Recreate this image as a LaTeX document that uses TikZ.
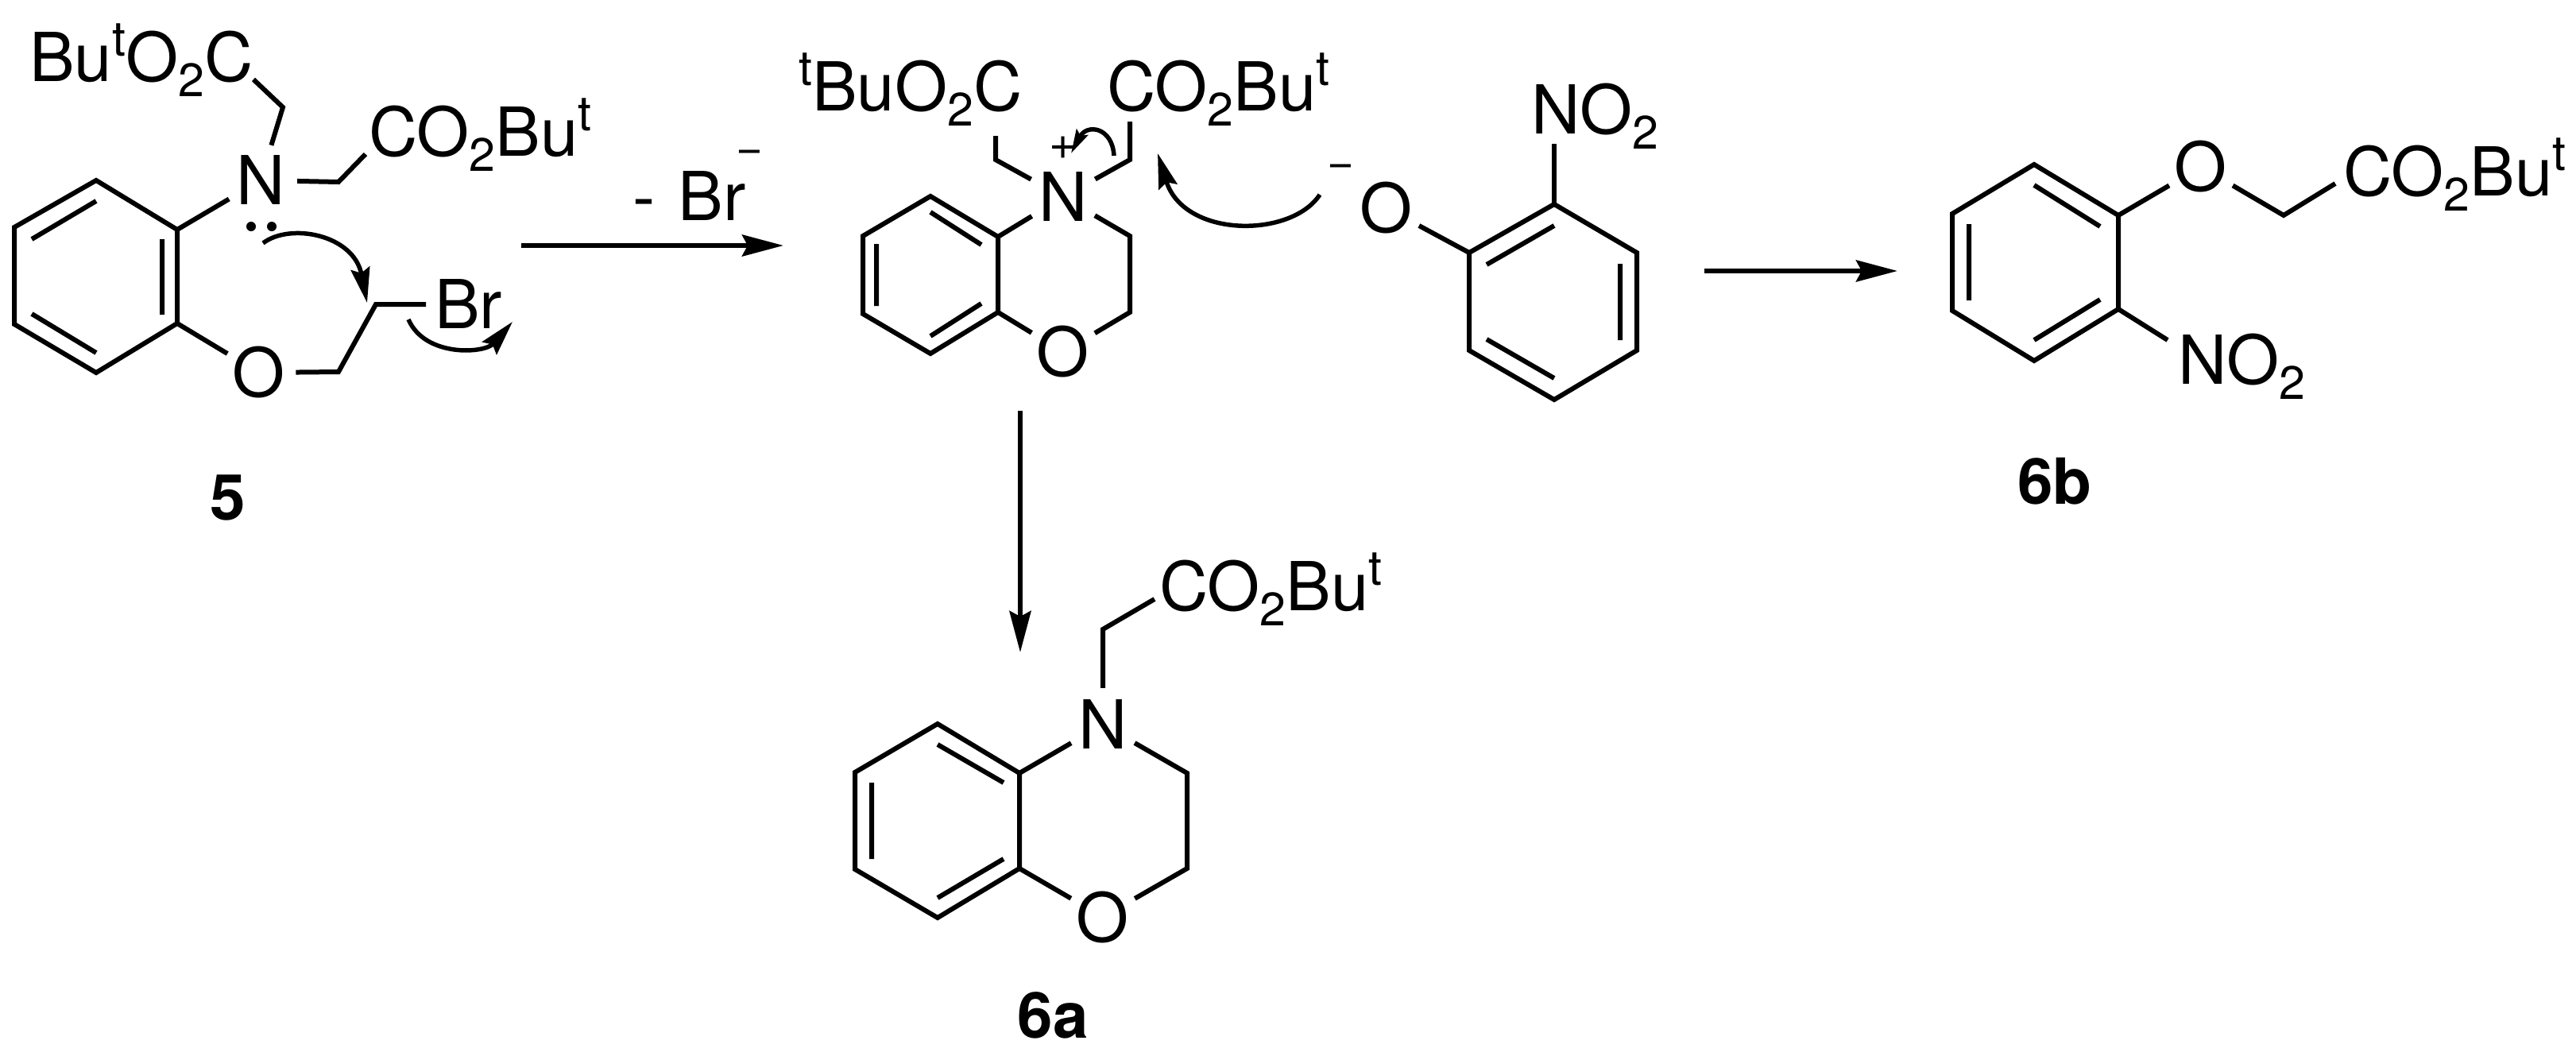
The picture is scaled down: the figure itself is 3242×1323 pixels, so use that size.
\documentclass[tikz,border=0pt]{standalone}
\usepackage{fontspec}
\setmainfont{TeX Gyre Heros}
\usetikzlibrary{arrows.meta}
\newcommand\chemfont{\fontsize{85}{85}\selectfont}
\newcommand\chemup[1]{\raisebox{32pt}{\fontsize{61}{61}\selectfont #1}}
\newcommand\chemdn[1]{\raisebox{-19pt}{\fontsize{59}{59}\selectfont #1}}
\newcommand\ButL{Bu\chemup{t}}
\tikzset{
  bond/.style={line width=6pt,line join=miter,line cap=butt,black},
  inner/.style={line width=6pt,line cap=butt,black},
  atom/.style={circle,inner sep=0pt,minimum size=92pt,font=\chemfont},
  group/.style={anchor=base west,inner sep=0pt,font=\chemfont},
  cmpd/.style={anchor=base,inner sep=0pt,font=\fontsize{80}{80}\selectfont\bfseries},
  charge/.style={inner sep=0pt,font=\fontsize{58}{58}\selectfont},
  rxn/.style={line width=6pt,line cap=butt,-{Stealth[length=52pt,width=27pt,inset=7pt]}},
  push/.style={line width=5.5pt,line cap=butt,-{Stealth[length=44pt,width=24pt,inset=6pt]}},
  pushs/.style={line width=5.5pt,line cap=butt,-{Stealth[length=30pt,width=16pt,inset=5pt]}},
}
\begin{document}
\begin{tikzpicture}[x=1pt,y=-1pt]
\useasboundingbox (0,0) rectangle (3242,1323);
% ---------- compound 5
\node[atom] (N5) at (328,227) {N};
\node[atom] (O5) at (326,469) {O};
\node[group] (G5a) at (37,102) {\ButL O\chemdn{2}C};
\node[group] (G5b) at (464,196) {CO\chemdn{2}\ButL};
\node[group] (Br5) at (547,413) {Br};
\node[cmpd] (L5) at (287,654) {5};
\coordinate (a1) at (121,227); \coordinate (a2) at (223,289); \coordinate (a3) at (223,407);
\coordinate (a4) at (121,469); \coordinate (a5) at (18,408); \coordinate (a6) at (18,286);
\coordinate (i1) at (121,253); \coordinate (i2) at (40,301);
\coordinate (i3) at (204,301); \coordinate (i4) at (204,396);
\coordinate (i5) at (121,444); \coordinate (i6) at (40,395);
\draw[bond] (a1)--(a2)--(a3)--(a4)--(a5)--(a6)--cycle;
\draw[inner] (i1)--(i2) (i3)--(i4) (i5)--(i6);
\coordinate (c1) at (356,135); \coordinate (c1e) at (319,100);
\coordinate (c2) at (426,229); \coordinate (c2e) at (460,194);
\coordinate (c3) at (426,468); \coordinate (c4) at (473,383); \coordinate (c4e) at (536,383);
\draw[bond] (a2)--(N5);
\draw[bond] (N5)--(c1)--(c1e);
\draw[bond] (N5)--(c2)--(c2e);
\draw[bond] (a3)--(O5);
\draw[bond] (O5)--(c3)--(c4)--(c4e);
\fill (316,285) circle (6pt) (342,285) circle (6pt);
\coordinate (p1s) at (331,306); \coordinate (p1e) at (462,381);
\draw[push] (p1s) .. controls (365,280) and (445,295) .. (p1e);
\coordinate (p2s) at (514,402); \coordinate (p2e) at (645,405);
\draw[push] (p2s) .. controls (535,450) and (610,445) .. (p2e);
% ---------- arrow 1
\coordinate (r1s) at (656,309); \coordinate (r1e) at (986,309);
\draw[rxn] (r1s)--(r1e);
\node[group] (BrLoss) at (796,277) {-\hspace{29pt}Br};
\node[charge] (BrMinus) at (943,197) {−};
% ---------- ammonium intermediate
\node[atom] (N2) at (1338,248) {N};
\node[atom] (O2) at (1338,443) {O};
\node[group] (G2a) at (1005,139) {\chemup{t}BuO\chemdn{2}C};
\node[group] (G2b) at (1393,139) {CO\chemdn{2}\ButL};
\coordinate (b1) at (1171,247); \coordinate (b2) at (1256,298); \coordinate (b3) at (1256,393);
\coordinate (b4) at (1171,445); \coordinate (b5) at (1086,395); \coordinate (b6) at (1086,297);
\coordinate (j1) at (1171,267); \coordinate (j2) at (1235,308);
\coordinate (j3) at (1103,307); \coordinate (j4) at (1103,385);
\coordinate (j5) at (1171,423); \coordinate (j6) at (1235,382);
\draw[bond] (b1)--(b2)--(b3)--(b4)--(b5)--(b6)--cycle;
\draw[inner] (j1)--(j2) (j3)--(j4) (j5)--(j6);
\coordinate (d1) at (1253,201); \coordinate (d1e) at (1253,171);
\coordinate (d2) at (1422,201); \coordinate (d2e) at (1422,153);
\coordinate (d3) at (1422,297); \coordinate (d4) at (1422,393);
\draw[bond] (b2)--(N2);
\draw[bond] (N2)--(d1)--(d1e);
\draw[bond] (N2)--(d2)--(d2e);
\draw[bond] (N2)--(d3)--(d4)--(O2);
\draw[bond] (b3)--(O2);
\node[charge,font=\fontsize{60}{60}\selectfont] (Plus) at (1338,186) {+};
\coordinate (p3s) at (1402,196); \coordinate (p3e) at (1348,193);
\draw[pushs] (p3s) .. controls (1400,160) and (1368,155) .. (p3e);
% ---------- nitrophenoxide
\node[atom] (O3) at (1745,262) {O};
\node[charge] (OMinus) at (1687,215) {−};
\node[group] (NO3) at (1927,168) {NO\chemdn{2}};
\coordinate (e1) at (1956,257); \coordinate (e2) at (2060,318); \coordinate (e3) at (2060,441);
\coordinate (e4) at (1956,503); \coordinate (e5) at (1849,441); \coordinate (e6) at (1849,318);
\coordinate (k1) at (1956,284); \coordinate (k2) at (1871,333);
\coordinate (k3) at (2039,332); \coordinate (k4) at (2039,428);
\coordinate (k5) at (1956,476); \coordinate (k6) at (1871,427);
\coordinate (e1n) at (1956,181);
\draw[bond] (e1)--(e2)--(e3)--(e4)--(e5)--(e6)--cycle;
\draw[inner] (k1)--(k2) (k3)--(k4) (k5)--(k6);
\draw[bond] (e6)--(O3);
\draw[bond] (e1)--(e1n);
\coordinate (p4s) at (1661,245); \coordinate (p4e) at (1457,193);
\draw[push] (p4s) .. controls (1625,300) and (1490,300) .. (p4e);
% ---------- arrow 2
\coordinate (r2s) at (2145,341); \coordinate (r2e) at (2388,341);
\draw[rxn] (r2s)--(r2e);
% ---------- compound 6b
\node[atom] (O4) at (2770,210) {O};
\node[group] (G4) at (2949,246) {CO\chemdn{2}\ButL};
\node[group] (NO4) at (2741,483) {NO\chemdn{2}};
\node[cmpd] (L6b) at (2586,634) {6b};
\coordinate (f1) at (2560,207); \coordinate (f2) at (2666,271); \coordinate (f3) at (2666,389);
\coordinate (f4) at (2560,454); \coordinate (f5) at (2457,391); \coordinate (f6) at (2457,269);
\coordinate (m1) at (2560,233); \coordinate (m2) at (2643,285);
\coordinate (m3) at (2478,282); \coordinate (m4) at (2478,378);
\coordinate (m5) at (2560,428); \coordinate (m6) at (2643,377);
\coordinate (f7) at (2874,271); \coordinate (f7e) at (2939,231); \coordinate (f3n) at (2728,428);
\draw[bond] (f1)--(f2)--(f3)--(f4)--(f5)--(f6)--cycle;
\draw[inner] (m1)--(m2) (m3)--(m4) (m5)--(m6);
\draw[bond] (f2)--(O4);
\draw[bond] (O4)--(f7)--(f7e);
\draw[bond] (f3)--(f3n);
% ---------- arrow 3
\coordinate (r3s) at (1284,517); \coordinate (r3e) at (1284,821);
\draw[rxn] (r3s)--(r3e);
% ---------- compound 6a
\node[atom] (N6) at (1388,912) {N};
\node[atom] (O6) at (1388,1154) {O};
\node[group] (G6) at (1459,768) {CO\chemdn{2}\ButL};
\node[cmpd] (L6a) at (1325,1306) {6a};
\coordinate (g1) at (1180,911); \coordinate (g2) at (1283,973); \coordinate (g3) at (1283,1093);
\coordinate (g4) at (1180,1155); \coordinate (g5) at (1076,1094); \coordinate (g6) at (1076,972);
\coordinate (n1) at (1180,937); \coordinate (n2) at (1263,985);
\coordinate (n3) at (1097,985); \coordinate (n4) at (1097,1081);
\coordinate (n5) at (1180,1130); \coordinate (n6) at (1263,1081);
\coordinate (h1) at (1388,792); \coordinate (h1e) at (1453,754);
\coordinate (h2) at (1494,973); \coordinate (h3) at (1494,1093);
\draw[bond] (g1)--(g2)--(g3)--(g4)--(g5)--(g6)--cycle;
\draw[inner] (n1)--(n2) (n3)--(n4) (n5)--(n6);
\draw[bond] (g2)--(N6);
\draw[bond] (N6)--(h1)--(h1e);
\draw[bond] (N6)--(h2)--(h3)--(O6);
\draw[bond] (g3)--(O6);
\end{tikzpicture}
\end{document}
